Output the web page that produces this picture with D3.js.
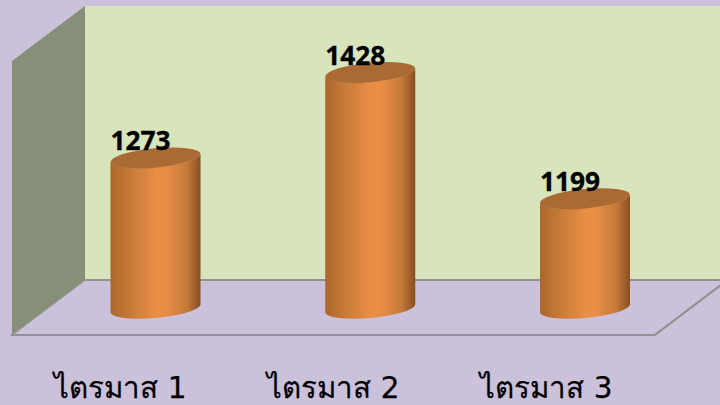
<!DOCTYPE html>
<html><head><meta charset="utf-8">
<script src="https://cdn.jsdelivr.net/npm/d3@7"></script>
<style>html,body{margin:0;padding:0;background:#CBC1DB;overflow:hidden}svg{display:block}</style>
</head><body><svg id="c" width="720" height="405"></svg>
<script>
const categories = ["ไตรมาส 1","ไตรมาส 2","ไตรมาส 3"];
const values = [1273,1428,1199];
const axisBase = 1000;

const svg = d3.select("#c");
const W=720,H=405;
const x = d3.scalePoint().domain(categories).range([155.5,585]);
const xLabel = d3.scalePoint().domain(categories).range([120,546]);
const y = d3.scaleLinear().domain([axisBase,1428]).range([308.5,72.5]);

const defs = svg.append("defs");
const g = defs.append("linearGradient").attr("id","cyl").attr("x1",0).attr("x2",1).attr("y1",0).attr("y2",0);
[[0,"#AC672E"],[0.22,"#C67A38"],[0.5,"#E88E45"],[0.62,"#E98E45"],[0.85,"#C47A39"],[0.96,"#98592A"],[1,"#85501F"]]
  .forEach(([o,c])=>g.append("stop").attr("offset",o).attr("stop-color",c));

svg.append("rect").attr("width",W).attr("height",H).attr("fill","#CBC1DB");
const line = d3.line();
svg.append("path").attr("d",line([[85,6],[720,6],[720,280],[85,280]])+"Z").attr("fill","#D8E4BC");
svg.append("path").attr("d",line([[12,61],[85,6],[85,280],[12,335]])+"Z").attr("fill","#878F78");
svg.append("path").attr("d",line([[85,280],[720,280]])).attr("stroke","#929292").attr("stroke-width",2.2).attr("fill","none");
svg.append("path").attr("d",line([[12,335],[85,280]])).attr("stroke","#929292").attr("stroke-width",1.5).attr("fill","none");
svg.append("path").attr("d",line([[11,335],[655,335],[722,284]])).attr("stroke","#929292").attr("stroke-width",2.2).attr("fill","none");

const hw=45, skew=4, a=45.2, b=9.7, rot=-5.3;
const bars = svg.append("g").selectAll("g").data(values).join("g");
bars.append("path").attr("fill","url(#cyl)").attr("d",(d,i)=>{
  const c=x(categories[i]), t=y(d), bt=y(axisBase);
  return `M${c-hw},${t+skew}L${c-hw},${bt+skew}A${a},${b} ${rot} 0 0 ${c+hw},${bt-skew}L${c+hw},${t-skew}A${a},${b} ${rot} 0 1 ${c-hw},${t+skew}Z`;
});
bars.append("ellipse").attr("fill","#AA6A33")
  .attr("rx",a).attr("ry",b)
  .attr("transform",(d,i)=>`translate(${x(categories[i])},${y(d)}) rotate(${rot})`);
bars.append("text").text(d=>d)
  .attr("x",(d,i)=>x(categories[i])-15).attr("y",d=>y(d)-7.5)
  .attr("text-anchor","middle").attr("font-family","'Open Sans',sans-serif")
  .attr("font-weight",700).attr("font-size",26.3).attr("fill","#000")
  .attr("stroke","#000").attr("stroke-width",0.3);

const axis = svg.append("g").attr("transform","translate(0,372)")
  .call(d3.axisBottom(xLabel).tickSize(0).tickPadding(0));
axis.select(".domain").remove();
axis.selectAll("text").attr("dy",0).attr("y",26)
  .attr("font-family","'DejaVu Sans','Noto Sans',sans-serif").attr("font-size",29.5).attr("fill","#000")
  .attr("stroke","#000").attr("stroke-width",0.25);
</script></body></html>
